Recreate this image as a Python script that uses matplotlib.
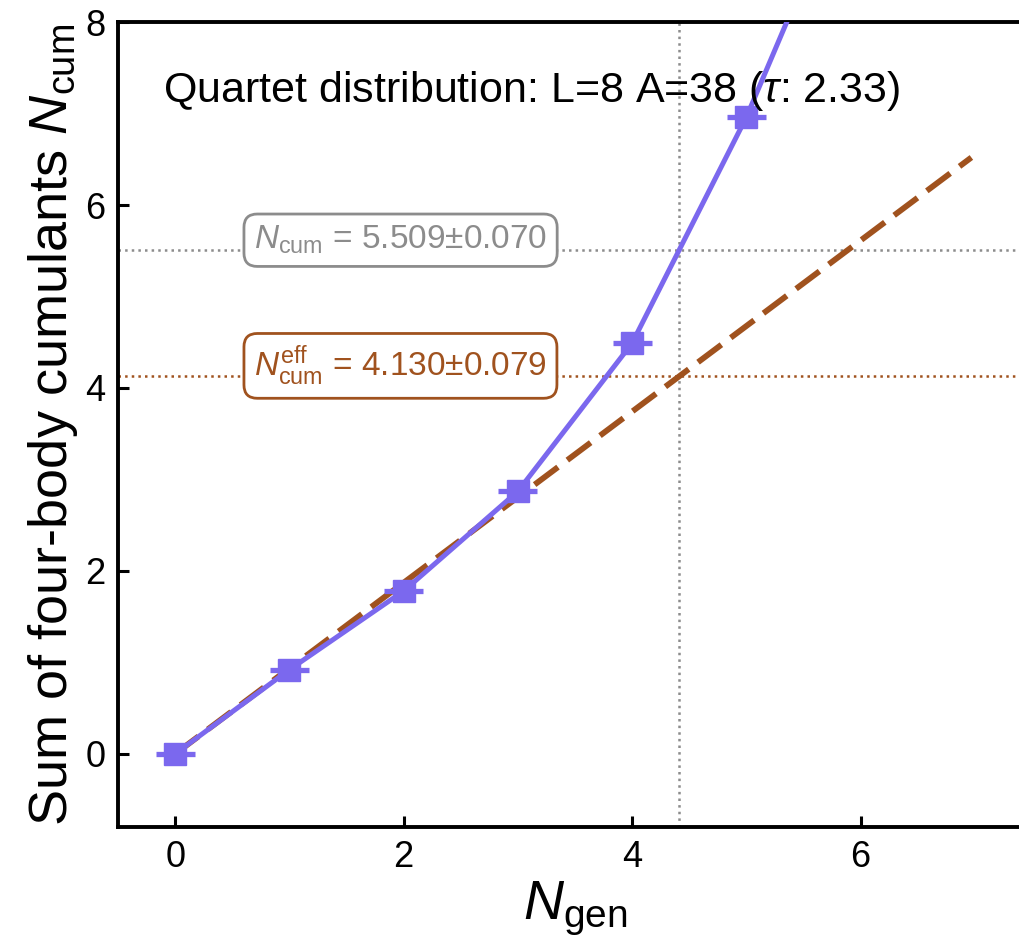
import matplotlib
matplotlib.use("Agg")
import matplotlib.pyplot as plt

# Sum of four-body cumulants vs number of generations
n_gen = [0, 1, 2, 3, 4, 5, 6]
n_cum = [0.0, 0.92, 1.78, 2.87, 4.49, 6.96, 9.9]
n_gen_err = [0.17, 0.17, 0.17, 0.17, 0.17, 0.17, 0.17]

# linear fit (effective)
fit_gen = [0.0, 6.97]
fit_cum = [0.0, 6.52]

n_cum_ref = 5.509
n_cum_ref_err = 0.070
n_cum_eff = 4.130
n_cum_eff_err = 0.079
n_gen_cross = 4.41

PURPLE = "#7b68ee"
BROWN = "#a0521e"
GREY = "#8c8c8c"

plt.rcParams["font.family"] = ["Liberation Sans", "DejaVu Sans"]
plt.rcParams["mathtext.fontset"] = "custom"
plt.rcParams["mathtext.rm"] = "Liberation Sans"
plt.rcParams["mathtext.it"] = "Liberation Sans:italic"
plt.rcParams["mathtext.bf"] = "Liberation Sans:bold"

fig = plt.figure(figsize=(10.2, 9.48), dpi=100)
ax = fig.add_axes([0.1157, 0.1276, 0.896, 0.8491])

ax.axhline(n_cum_ref, color=GREY, ls=":", lw=1.8, zorder=1)
ax.axhline(n_cum_eff, color=BROWN, ls=":", lw=1.8, zorder=1)
ax.axvline(n_gen_cross, color=GREY, ls=":", lw=1.8, zorder=1)

ax.plot(fit_gen, fit_cum, color=BROWN, ls=(0, (5, 2)), lw=4.2, zorder=2)
ax.errorbar(n_gen, n_cum, xerr=n_gen_err, color=PURPLE, marker="s", ms=16,
            lw=3.6, elinewidth=3.8, capsize=0, zorder=3)

ax.text(0.049, 0.915, r"Quartet distribution: L=8 A=38 ($\tau$: 2.33)",
        transform=ax.transAxes, fontsize=31, va="center", ha="left", zorder=4)

ax.text(0.69, n_cum_ref + 0.01, r"$N_{\rm cum}$ = %.3f$\pm$%.3f" % (n_cum_ref, n_cum_ref_err),
        color=GREY, fontsize=24, va="baseline", ha="left", zorder=5,
        bbox=dict(boxstyle="round,pad=0.3,rounding_size=0.4", fc="white", ec=GREY, lw=2))
ax.text(0.69, n_cum_eff, r"$N_{\rm cum}^{\rm eff}$ = %.3f$\pm$%.3f" % (n_cum_eff, n_cum_eff_err),
        color=BROWN, fontsize=24, va="baseline", ha="left", zorder=5,
        bbox=dict(boxstyle="round,pad=0.3,rounding_size=0.4", fc="white", ec=BROWN, lw=2))

ax.set_xlim(-0.5, 7.5)
ax.set_ylim(-0.8, 8)
ax.set_xticks([0, 2, 4, 6])
ax.set_yticks([0, 2, 4, 6, 8])
ax.set_xlabel(r"$N_{\rm gen}$", fontsize=40, labelpad=4)
ax.set_ylabel(r"Sum of four-body cumulants $N_{\rm cum}$", fontsize=39, labelpad=4)
ax.tick_params(direction="in", length=8, width=2.2, labelsize=26, pad=9)
for s in ax.spines.values():
    s.set_linewidth(2.8)

fig.savefig("out.png", dpi=100)
